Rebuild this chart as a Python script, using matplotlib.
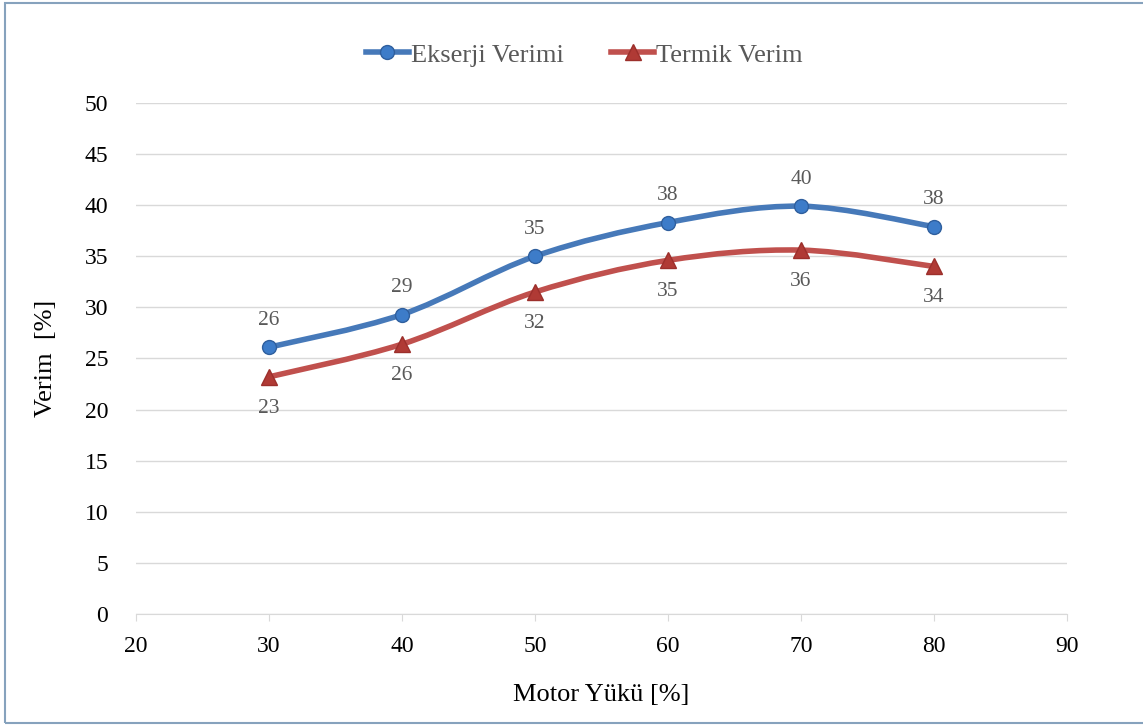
import numpy as np
import matplotlib.pyplot as plt
from matplotlib.path import Path
from matplotlib.patches import PathPatch, Rectangle

plt.rcParams['font.family'] = ['Liberation Serif', 'DejaVu Serif']

# Motor load [%] and efficiencies [%]
motor_yuku = [30, 40, 50, 60, 70, 80]
ekserji_verimi = [26.1, 29.3, 35.0, 38.3, 39.9, 37.9]
termik_verim = [23.2, 26.4, 31.5, 34.6, 35.6, 34.0]

blue = '#4679b9'
red = '#c0504d'


def smooth_path(xs, ys, t=1 / 6):
    # Bezier segments through the points, similar to spreadsheet smoothing
    pts = np.column_stack([xs, ys]).astype(float)
    n = len(pts)
    verts = [pts[0]]
    codes = [Path.MOVETO]
    for i in range(n - 1):
        p0 = pts[i - 1] if i > 0 else pts[i]
        p1 = pts[i]
        p2 = pts[i + 1]
        p3 = pts[i + 2] if i + 2 < n else pts[i + 1]
        c1 = p1 + (p2 - p0) * t
        c2 = p2 - (p3 - p1) * t
        verts += [c1, c2, p2]
        codes += [Path.CURVE4] * 3
    return Path(verts, codes)


fig = plt.figure(figsize=(11.43, 7.26), dpi=100)
ax = fig.add_axes([0.119, 0.1543, 0.8145, 0.7039])

for ys, color in [(ekserji_verimi, blue), (termik_verim, red)]:
    ax.add_patch(PathPatch(smooth_path(motor_yuku, ys), fill=False,
                           edgecolor=color, lw=4, capstyle='round', zorder=3))

blue_style = dict(color=blue, lw=4, marker='o', ms=10,
                  markerfacecolor='#3d7cc9', markeredgecolor='#2f5f9e')
red_style = dict(color=red, lw=4, marker='^', ms=12,
                 markerfacecolor='#b03a35', markeredgecolor='#9c2f2b')

ax.plot(motor_yuku, ekserji_verimi, linestyle='none', zorder=4, **blue_style)
ax.plot(motor_yuku, termik_verim, linestyle='none', zorder=4, **red_style)

# legend entries drawn with line + marker
ax.plot([], [], label='Ekserji Verimi', **blue_style)
ax.plot([], [], label='Termik Verim', **red_style)

for x, y in zip(motor_yuku, ekserji_verimi):
    ax.annotate('%.0f' % y, (x, y), xytext=(0, 19.5), textcoords='offset points',
                ha='center', va='center', fontsize=15.5, color='#595959')
for x, y in zip(motor_yuku, termik_verim):
    ax.annotate('%.0f' % y, (x, y), xytext=(0, -22.5), textcoords='offset points',
                ha='center', va='center', fontsize=15.5, color='#595959')

ax.set_xlim(20, 90)
ax.set_ylim(0, 50)
ax.set_xticks(range(20, 91, 10))
ax.set_yticks(range(0, 51, 5))
ax.tick_params(axis='x', length=5, color='#d9d9d9', labelsize=17, pad=11)
ax.tick_params(axis='y', length=0, labelsize=17, pad=20)
ax.grid(axis='y', color='#d9d9d9', lw=1)
ax.set_axisbelow(True)
for side in ['top', 'right', 'left']:
    ax.spines[side].set_visible(False)
ax.spines['bottom'].set_color('#d9d9d9')

ax.set_xlabel('Motor Yükü [%]', fontsize=19, labelpad=19)
ax.set_ylabel('Verim  [%]', fontsize=19, labelpad=20)

leg = fig.legend(loc='center', bbox_to_anchor=(0.511, 1 - 55 / 726), ncol=2,
                 frameon=False, fontsize=19, handlelength=1.65,
                 columnspacing=1.8, handletextpad=0.05)
for txt in leg.get_texts():
    txt.set_color('#595959')

# outer frame
fig.patches.append(Rectangle((5 / 1143, 3 / 726), 1.1, 720 / 726,
                             transform=fig.transFigure, fill=False,
                             edgecolor='#86a2bd', lw=1.5))

fig.savefig('out.png', dpi=100)
